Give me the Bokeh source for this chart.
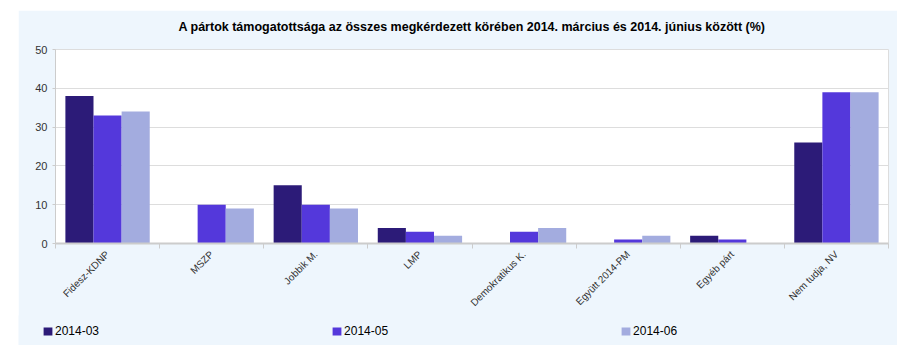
import math
import numpy as np
from bokeh.plotting import figure
from bokeh.models import ColumnDataSource, Range1d, FixedTicker, Legend, LegendItem, Title
from bokeh.transform import dodge
from bokeh.embed import file_html
from bokeh.resources import INLINE

categories = ["Fidesz-KDNP", "MSZP", "Jobbik M.", "LMP", "Demokratikus K.",
              "Együtt 2014-PM", "Egyéb párt", "Nem tudja, NV"]
series_names = ["2014-03", "2014-05", "2014-06"]
v_2014_03 = [38, 0, 15, 4, 0, 0, 2, 26]
v_2014_05 = [33, 10, 10, 3, 3, 1, 1, 39]
v_2014_06 = [34, 9, 9, 2, 4, 2, 0, 39]
colors = ["#2C1B78", "#5438DB", "#A3ACDF"]
y_ticks = [0, 10, 20, 30, 40, 50]

title = "A pártok támogatottsága az összes megkérdezett körében 2014. március és 2014. június között (%)"

centers = np.arange(len(categories)) + 0.5
data = {"x": centers, "2014-03": v_2014_03, "2014-05": v_2014_05, "2014-06": v_2014_06}
src = ColumnDataSource(data)

BG = "#EEF6FD"
p = figure(width=879, height=306, output_backend="svg", toolbar_location=None,
           x_range=Range1d(0, len(categories)), y_range=Range1d(0, 50),
           min_border_left=37, min_border_right=9, min_border_top=39, min_border_bottom=73,
           background_fill_color="white", border_fill_color=BG,
           outline_line_color="#DDDDDD", margin=(10, 0, 0, 18))

p.title.text = title
p.title.align = "center"
p.title.text_font = "Liberation Sans"
p.title.text_font_size = "12.5px"
p.title.text_font_style = "bold"
p.title.text_color = "#000000"
p.title.offset = 0

# blank spacer between title and plot area
p.add_layout(Title(text=" ", text_font_size="8px", standoff=0), "above")

bw = 0.27
offsets = [-bw, 0, bw]
for name, col, off in zip(series_names, colors, offsets):
    p.vbar(x=dodge("x", off), top=name, width=bw, source=src,
           fill_color=col, line_color=None)

# axes
xa = p.xaxis[0]
xa.ticker = FixedTicker(ticks=list(centers), minor_ticks=list(range(len(categories) + 1)))
xa.major_label_overrides = {float(c): cat for c, cat in zip(centers, categories)}
xa.major_label_orientation = math.pi / 4
xa.major_tick_out = 0
xa.major_tick_in = 0
xa.minor_tick_out = 5
xa.minor_tick_in = 0
xa.minor_tick_line_color = "#CCCCCC"
xa.axis_line_color = "#CCCCCC"
xa.axis_line_width = 2
xa.major_label_text_font = "Liberation Sans"
xa.major_label_text_font_size = "10px"
xa.major_label_text_color = "#333333"
xa.major_label_standoff = 4

ya = p.yaxis[0]
ya.ticker = FixedTicker(ticks=y_ticks)
ya.axis_line_color = "#CCCCCC"
ya.major_tick_out = 3
ya.major_tick_in = 0
ya.major_tick_line_color = "#CCCCCC"
ya.minor_tick_line_color = None
ya.major_label_text_font = "Liberation Sans"
ya.major_label_text_font_size = "11px"
ya.major_label_text_color = "#333333"
ya.major_label_standoff = 5

p.xgrid.grid_line_color = None
p.ygrid.grid_line_color = "#DDDDDD"
p.ygrid.ticker = FixedTicker(ticks=y_ticks)

# legend strip (bars here fall outside its visible range; only the legend shows)
p2 = figure(width=879, height=30, output_backend="svg", toolbar_location=None,
            min_border_left=0, min_border_right=0, min_border_top=0, min_border_bottom=0,
            outline_line_color=None, background_fill_color=BG,
            border_fill_color=BG, margin=(-1, 0, 0, 18),
            x_axis_location=None, y_axis_location=None,
            x_range=Range1d(100, 101), y_range=Range1d(100, 101))
p2.grid.visible = False
leg_renderers = []
for name, col in zip(series_names, colors):
    leg_renderers.append(p2.vbar(x="x", top=name, width=bw, source=src,
                                 fill_color=col, line_color=None))

legend = Legend(items=[LegendItem(label=n, renderers=[r]) for n, r in zip(series_names, leg_renderers)],
                orientation="horizontal", location=(24, 7), spacing=232,
                glyph_width=11, glyph_height=10, label_standoff=2,
                padding=0, margin=0, border_line_alpha=0, background_fill_alpha=0,
                label_text_font="Liberation Sans", label_text_font_size="12px",
                label_text_color="#000000", label_height=12)
p2.add_layout(legend, "center")

open("out.html", "w").write(file_html((p, p2), INLINE))
